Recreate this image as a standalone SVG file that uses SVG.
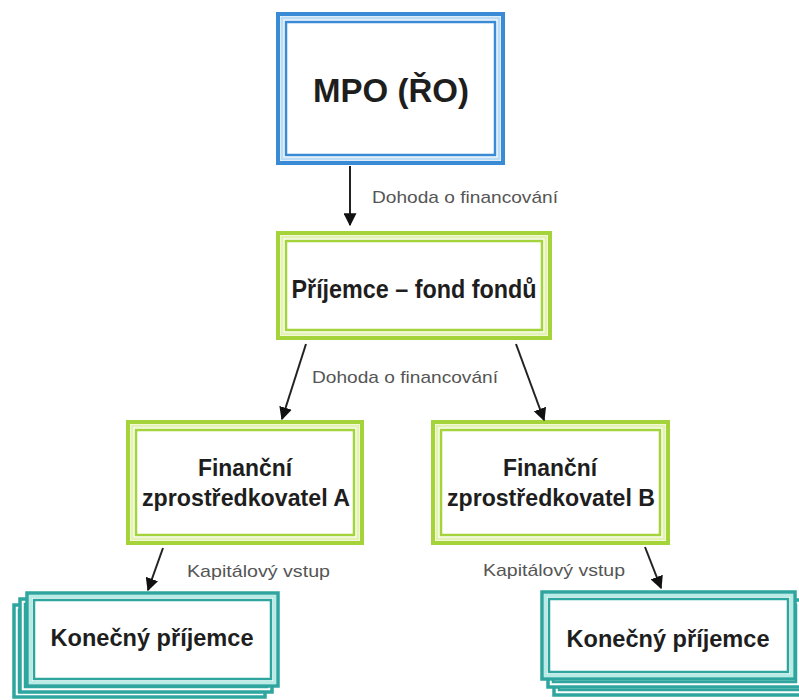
<svg xmlns="http://www.w3.org/2000/svg" width="799" height="700" viewBox="0 0 799 700">
<defs>
<style>
.bg{fill:#ffffff}
.blueO{fill:#ffffff;stroke:#3a8bd6;stroke-width:4}
.blueG{fill:none;stroke:#bcdcf4;stroke-width:3}
.blueI{fill:#ffffff;stroke:#3a8bd6;stroke-width:2.5}
.grnO{fill:#ffffff;stroke:#a5d33a;stroke-width:4}
.grnG{fill:none;stroke:#e4f3b4;stroke-width:3}
.grnI{fill:#ffffff;stroke:#a5d33a;stroke-width:2.5}
.tlO{fill:#ffffff;stroke:#2ea69f;stroke-width:3.5}
.tlG{fill:none;stroke:#b9ece7;stroke-width:3}
.tlI{fill:#ffffff;stroke:#2ea69f;stroke-width:2.5}
.t{font-family:"Liberation Sans",Arial,sans-serif;font-weight:bold;fill:#1e1e1e;text-anchor:middle}
.lbl{font-family:"Liberation Sans",Arial,sans-serif;fill:#555555;font-size:17px}
.conn{stroke:#222222;stroke-width:2;fill:none;marker-end:url(#ah)}
</style>
<marker id="ah" viewBox="0 0 10 10" refX="9" refY="5" markerWidth="6.5" markerHeight="6.5" orient="auto" markerUnits="strokeWidth">
<path d="M0,0 L10,5 L0,10 Z" fill="#111111"/>
</marker>
</defs>
<rect class="bg" x="0" y="0" width="799" height="700"/>

<g id="mpo">
<rect class="blueO" x="278" y="14" width="225" height="149"/>
<rect class="blueG" x="282" y="18" width="217" height="141"/>
<rect class="blueI" x="286" y="22" width="209" height="133"/>
<text class="t" x="391" y="102" font-size="33">MPO (ŘO)</text>
</g>

<g id="fond">
<rect class="grnO" x="278" y="233" width="272" height="105"/>
<rect class="grnG" x="282" y="237" width="264" height="97"/>
<rect class="grnI" x="286" y="241" width="256" height="89"/>
<text class="t" x="414" y="298" font-size="25" textLength="245" lengthAdjust="spacingAndGlyphs">Příjemce – fond fondů</text>
</g>

<g id="zprA">
<rect class="grnO" x="128" y="422" width="234" height="121"/>
<rect class="grnG" x="132" y="426" width="226" height="113"/>
<rect class="grnI" x="136" y="430" width="218" height="105"/>
<text class="t" x="245" y="476" font-size="23" textLength="94" lengthAdjust="spacingAndGlyphs">Finanční</text>
<text class="t" x="246" y="506" font-size="23" textLength="208" lengthAdjust="spacingAndGlyphs">zprostředkovatel A</text>
</g>

<g id="zprB">
<rect class="grnO" x="433" y="422" width="235" height="121"/>
<rect class="grnG" x="437" y="426" width="227" height="113"/>
<rect class="grnI" x="441" y="430" width="219" height="105"/>
<text class="t" x="550" y="476" font-size="23" textLength="94" lengthAdjust="spacingAndGlyphs">Finanční</text>
<text class="t" x="551" y="506" font-size="23" textLength="208" lengthAdjust="spacingAndGlyphs">zprostředkovatel B</text>
</g>

<g id="konA">
<rect class="tlO" x="14" y="605" width="251" height="92"/>
<rect class="tlI" x="19" y="610" width="241" height="82"/>
<rect class="tlO" x="20" y="599" width="252" height="93"/>
<rect class="tlI" x="25" y="604" width="242" height="83"/>
<rect class="tlO" x="27" y="593" width="251" height="93"/>
<rect class="tlG" x="30.5" y="596.5" width="244" height="86"/>
<rect class="tlI" x="34" y="600" width="237" height="79"/>
<text class="t" x="152" y="646" font-size="24" textLength="203" lengthAdjust="spacingAndGlyphs">Konečný příjemce</text>
</g>

<g id="konB">
<rect class="tlO" x="554" y="608" width="253" height="87"/>
<rect class="tlI" x="559" y="613" width="243" height="77"/>
<rect class="tlO" x="548" y="600" width="253" height="87"/>
<rect class="tlI" x="553" y="605" width="243" height="77"/>
<rect class="tlO" x="542" y="592" width="253" height="87"/>
<rect class="tlG" x="545.5" y="595.5" width="246" height="80"/>
<rect class="tlI" x="549" y="599" width="239" height="73"/>
<text class="t" x="668" y="647" font-size="24" textLength="203" lengthAdjust="spacingAndGlyphs">Konečný příjemce</text>
</g>

<g id="connectors">
<line class="conn" x1="350" y1="166" x2="350" y2="225"/>
<line class="conn" x1="306" y1="344" x2="282" y2="419"/>
<line class="conn" x1="516" y1="344" x2="544" y2="420"/>
<line class="conn" x1="163" y1="548" x2="148" y2="590"/>
<line class="conn" x1="645" y1="547" x2="661" y2="588"/>
<text class="lbl" x="372" y="203" textLength="186" lengthAdjust="spacingAndGlyphs">Dohoda o financování</text>
<text class="lbl" x="312" y="383" textLength="186" lengthAdjust="spacingAndGlyphs">Dohoda o financování</text>
<text class="lbl" x="187" y="577" textLength="143" lengthAdjust="spacingAndGlyphs">Kapitálový vstup</text>
<text class="lbl" x="483" y="576" textLength="142" lengthAdjust="spacingAndGlyphs">Kapitálový vstup</text>
</g>
</svg>
